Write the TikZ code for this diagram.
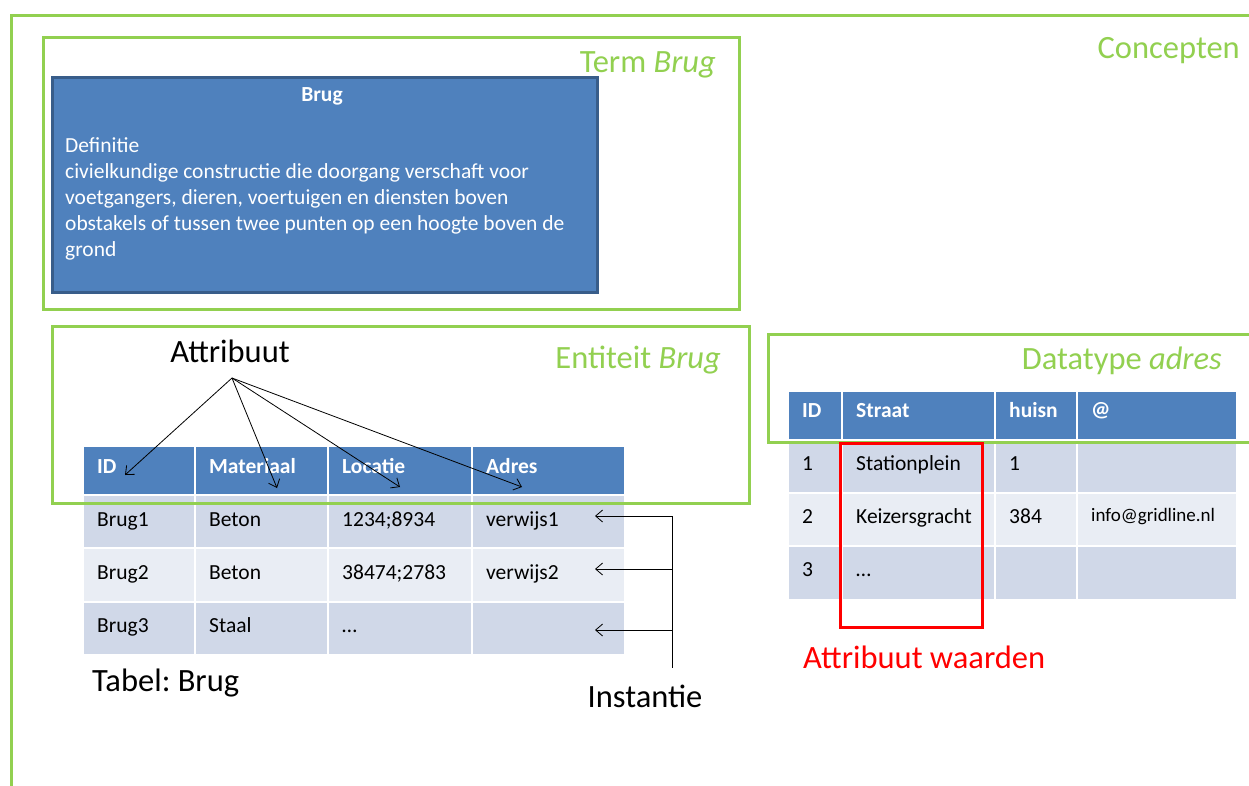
\documentclass[tikz,border=0pt]{standalone}
\usepackage{fontspec}
\setmainfont{Carlito}
\frenchspacing
\usetikzlibrary{arrows.meta}
\definecolor{grn}{HTML}{92D050}
\definecolor{hdrblue}{HTML}{4F81BD}
\definecolor{boxedge}{HTML}{385D8A}
\definecolor{rowodd}{HTML}{D0D8E8}
\definecolor{roweven}{HTML}{E9EDF4}
\definecolor{redc}{HTML}{FF0000}
\newcommand\tcell[8]{%
  \node[#6, minimum width=#4pt, minimum height=#5pt, anchor=north west] (#1) at (#2,#3) {};
  \node[#6txt, anchor=west] (#1t) at ([xshift=14pt,yshift=-#8pt]#1.north west) {#7};
}
\tikzset{
  cellbase/.style={draw=white, line width=1.5pt, inner sep=0pt, outer sep=0pt},
  hdr/.style={cellbase, fill=hdrblue},
  odd/.style={cellbase, fill=rowodd},
  even/.style={cellbase, fill=roweven},
  hdrtxt/.style={inner sep=0pt, text=white, text height=15pt, text depth=0pt, font=\fontsize{21.5}{24}\selectfont\bfseries},
  oddtxt/.style={inner sep=0pt, text=black, text height=15pt, text depth=0pt, font=\fontsize{21.5}{24}\selectfont},
  eventxt/.style={oddtxt},
  greenbox/.style={draw=grn, line width=3pt},
  greenlbl/.style={text=grn, inner sep=0pt, text height=20pt, text depth=0pt, font=\fontsize{32.5}{36}\selectfont},
  bigblack/.style={text=black, inner sep=0pt, text height=20pt, text depth=0pt, font=\fontsize{32.5}{36}\selectfont},
  deftxt/.style={text=white, inner sep=0pt, anchor=west, text height=15pt, text depth=0pt, font=\fontsize{21.5}{26}\selectfont},
  pointer/.style={draw=black, line width=0.8pt, -{Straight Barb[length=7pt,width=12pt]}},
}
\begin{document}
\begin{tikzpicture}[x=1pt,y=-1pt]
\useasboundingbox (0,0) rectangle (1249,785);
\fill[white] (0,0) rectangle (1249,785);

% outer frame (open at right and bottom)
\coordinate (ftl) at (11,15);
\coordinate (ftr) at (1252,15);
\coordinate (fbl) at (11,788);
\draw[greenbox] (ftr) -- (ftl) -- (fbl);
\node[greenlbl, anchor=east] (concepten) at (1240,48) {Concepten};

% Term Brug
\node[draw=boxedge, line width=2.5pt, fill=hdrblue, minimum width=545pt, minimum height=215pt, anchor=north west, inner sep=0pt] (defbox) at (51,76) {};
\node[text=white, inner sep=0pt, text height=15pt, text depth=0pt, font=\fontsize{21.5}{24}\selectfont\bfseries] (deftitle) at (322,94) {Brug};
\node[deftxt] (d1) at (65,145) {Definitie};
\node[deftxt] (d2) at (65,171) {civielkundige constructie die doorgang verschaft voor};
\node[deftxt] (d3) at (65,197) {voetgangers, dieren, voertuigen en diensten boven};
\node[deftxt] (d4) at (65,223) {obstakels of tussen twee punten op een hoogte boven de};
\node[deftxt] (d5) at (65,249) {grond};

% Table Brug
\tcell{ah1}{83}{446}{112}{49}{hdr}{ID}{20}
\tcell{ah2}{195}{446}{133}{49}{hdr}{Materiaal}{20}
\tcell{ah3}{328}{446}{144}{49}{hdr}{Locatie}{20}
\tcell{ah4}{472}{446}{153}{49}{hdr}{Adres}{20}
\tcell{a11}{83}{495}{112}{53}{odd}{Brug1}{24}
\tcell{a12}{195}{495}{133}{53}{odd}{Beton}{24}
\tcell{a13}{328}{495}{144}{53}{odd}{1234;8934}{24}
\tcell{a14}{472}{495}{153}{53}{odd}{verwijs1}{24}
\tcell{a21}{83}{548}{112}{54}{even}{Brug2}{24}
\tcell{a22}{195}{548}{133}{54}{even}{Beton}{24}
\tcell{a23}{328}{548}{144}{54}{even}{38474;2783}{24}
\tcell{a24}{472}{548}{153}{54}{even}{verwijs2}{24}
\tcell{a31}{83}{602}{112}{53}{odd}{Brug3}{23}
\tcell{a32}{195}{602}{133}{53}{odd}{Staal}{23}
\tcell{a33}{328}{602}{144}{53}{odd}{\dots}{23}
\tcell{a34}{472}{602}{153}{53}{odd}{}{23}

% Table adres
\tcell{bh1}{788}{391}{54}{49}{hdr}{ID}{19}
\tcell{bh2}{842}{391}{153}{49}{hdr}{Straat}{19}
\tcell{bh3}{995}{391}{82}{49}{hdr}{huisn}{19}
\tcell{bh4}{1077}{391}{160}{49}{hdr}{@}{18}
\tcell{b11}{788}{440}{54}{53}{odd}{1}{23}
\tcell{b12}{842}{440}{153}{53}{odd}{Stationplein}{23}
\tcell{b13}{995}{440}{82}{53}{odd}{1}{23}
\tcell{b14}{1077}{440}{160}{53}{odd}{}{23}
\tcell{b21}{788}{493}{54}{53}{even}{2}{23}
\tcell{b22}{842}{493}{153}{53}{even}{Keizersgracht}{23}
\tcell{b23}{995}{493}{82}{53}{even}{384}{23}
\tcell{b24}{1077}{493}{160}{53}{even}{\fontsize{19}{22}\selectfont info@gridline.nl}{21}
\tcell{b31}{788}{546}{54}{54}{odd}{3}{23}
\tcell{b32}{842}{546}{153}{54}{odd}{\dots}{23}
\tcell{b33}{995}{546}{82}{54}{odd}{}{23}
\tcell{b34}{1077}{546}{160}{54}{odd}{}{23}

% green concept boxes
\node[greenbox, minimum width=696pt, minimum height=272pt, anchor=north west, inner sep=0pt] (termbox) at (42,36) {};
\node[greenlbl, anchor=east] (termlbl) at (716,62) {Term \textit{Brug}};
\node[greenbox, minimum width=697pt, minimum height=177pt, anchor=north west, inner sep=0pt] (entbox) at (51,325) {};
\node[greenlbl, anchor=east] (entlbl) at (721,358) {Entiteit \textit{Brug}};
\node[greenbox, minimum width=482pt, minimum height=108pt, anchor=north west, inner sep=0pt] (dtbox) at (767,333) {};
\node[greenlbl, anchor=east] (dtlbl) at (1222,359) {Datatype \textit{adres}};

% red box
\node[draw=redc, line width=3pt, minimum width=142pt, minimum height=184pt, anchor=north west, inner sep=0pt] (redbox) at (839,442) {};
\node[text=redc, inner sep=0pt, anchor=west, text height=20pt, text depth=0pt, font=\fontsize{32.5}{36}\selectfont] (waarden) at (803,658) {Attribuut waarden};

% Attribuut arrows
\node[bigblack] (attr) at (230,352) {Attribuut};
\coordinate (ao) at (232,378);
\coordinate (t1) at (125,475);
\coordinate (t2) at (277,488);
\coordinate (t3) at (400,487);
\coordinate (t4) at (522,487);
\draw[pointer] (ao) -- (t1);
\draw[pointer] (ao) -- (t2);
\draw[pointer] (ao) -- (t3);
\draw[pointer] (ao) -- (t4);

% Instantie arrows
\node[bigblack] (inst) at (645,697) {Instantie};
\coordinate (i1) at (672,516);
\coordinate (i2) at (672,569);
\coordinate (i3) at (672,630);
\coordinate (ib) at (672,668);
\coordinate (e1) at (595,516);
\coordinate (e2) at (595,569);
\coordinate (e3) at (595,630);
\draw[line width=0.8pt] (i1) -- (ib);
\draw[pointer] (i1) -- (e1);
\draw[pointer] (i2) -- (e2);
\draw[pointer] (i3) -- (e3);

\node[bigblack, anchor=west] (tabel) at (92,681) {Tabel: Brug};
\end{tikzpicture}
\end{document}
